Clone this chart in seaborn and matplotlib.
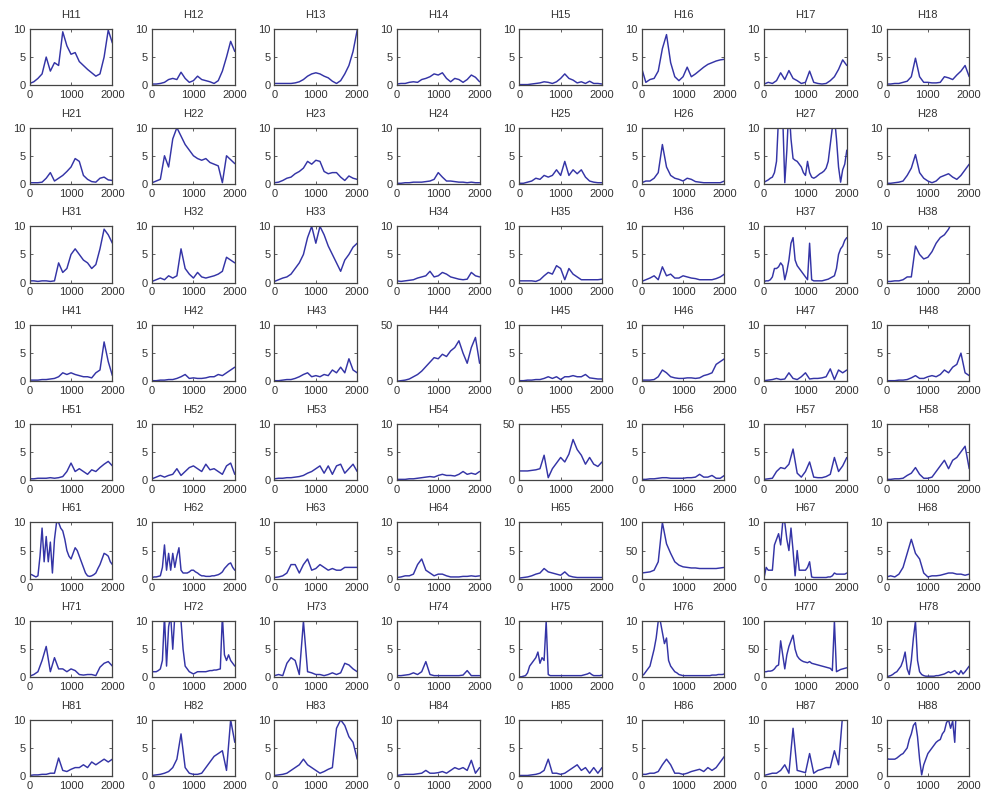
import numpy as np
import pandas as pd
import matplotlib
matplotlib.use("Agg")
import matplotlib.pyplot as plt
import seaborn as sns

# ---- data (x spans 0..2000 evenly) ----
H11 = [0.3,0.6,1.2,2.0,5.0,2.5,4.0,3.5,9.5,7.0,5.5,5.8,4.2,3.5,2.8,2.2,1.6,2.0,5.0,9.8,7.5]
H12 = [0.2,0.2,0.3,0.5,1.0,1.2,1.0,2.3,1.2,0.5,0.8,1.6,1.0,0.8,0.6,0.3,0.8,2.5,5.0,7.8,6.0]
H13 = [0.3,0.3,0.3,0.3,0.3,0.4,0.6,1.0,1.6,2.0,2.2,2.0,1.6,1.3,0.7,0.3,0.8,2.0,3.5,6.0,9.8]
H14 = [0.2,0.3,0.3,0.5,0.6,0.5,1.0,1.2,1.5,2.0,1.8,2.2,1.2,0.6,1.2,1.0,0.5,1.0,1.8,1.4,0.6]
H15 = [0.1,0.1,0.1,0.2,0.3,0.4,0.6,0.5,0.3,0.6,1.2,2.0,1.2,0.9,0.4,0.6,0.3,0.7,0.3,0.3,0.2]
H16 = [3.0,0.5,1.0,1.2,2.5,6.5,9.0,4.0,1.5,0.8,1.5,3.2,1.5,2.0,2.6,3.2,3.7,4.0,4.3,4.5,4.6]
H17 = [0.2,0.5,0.3,0.8,2.2,1.0,2.6,1.2,0.8,0.3,0.5,2.5,0.5,0.3,0.2,0.3,0.8,1.5,2.8,4.5,3.5]
H18 = [0.2,0.2,0.3,0.3,0.5,0.7,1.5,4.8,1.5,0.5,0.5,0.4,0.4,0.5,1.5,1.3,1.0,1.8,2.5,3.5,1.5]

H21 = [0.2,0.2,0.2,0.3,1.0,2.0,0.5,1.0,1.5,2.2,3.0,4.5,4.0,1.5,0.8,0.4,0.3,1.0,1.2,0.7,0.6]
H22 = [0.2,0.5,0.8,5.0,3.0,8.0,10.0,8.5,7.0,6.0,5.0,4.5,4.2,4.5,3.8,3.5,3.2,0.2,5.0,4.3,3.6]
H23 = [0.2,0.3,0.6,1.0,1.2,1.8,2.2,2.8,4.0,3.5,4.2,4.0,2.2,1.8,2.0,2.0,1.2,0.6,1.4,1.0,0.8]
H24 = [0.1,0.1,0.2,0.2,0.3,0.3,0.3,0.4,0.5,0.8,2.0,1.2,0.5,0.5,0.4,0.3,0.3,0.2,0.3,0.2,0.2]
H25 = [0.1,0.1,0.3,0.5,1.0,0.8,1.5,1.2,1.5,2.5,1.5,4.0,1.5,2.5,1.8,2.5,1.2,0.5,0.3,0.2,0.2]
H26 = [0.2,0.5,0.5,1.0,2.0,7.0,3.0,1.5,1.0,0.8,0.5,1.0,0.8,0.4,0.3,0.2,0.2,0.2,0.2,0.2,0.5]
H27 = [0.3,0.5,0.7,1.0,1.2,2.0,4.0,12,14,12,0.2,6.0,14,8.0,4.5,4.2,4.0,3.5,3.0,2.0,1.5,
       4.0,2.0,1.2,1.0,1.2,1.5,1.8,2.0,2.3,2.8,4.0,7.0,10,12,8.0,3.0,0.3,2.5,3.5,6.0]
H28 = [0.1,0.1,0.2,0.3,0.5,1.5,2.8,5.2,2.0,1.0,0.5,0.2,0.5,1.2,1.5,1.8,1.2,0.8,1.5,2.5,3.5]

H31 = [0.3,0.3,0.2,0.3,0.3,0.2,0.3,3.5,1.8,2.5,5.0,6.0,5.0,4.0,3.5,2.5,3.2,6.0,9.5,8.5,7.0]
H32 = [0.2,0.5,0.8,0.5,1.2,0.8,1.2,6.0,2.5,1.5,0.8,1.8,1.0,0.8,1.0,1.2,1.5,2.0,4.5,4.0,3.5]
H33 = [0.2,0.5,0.8,1.0,1.5,2.5,3.5,5.0,8.0,10.0,7.0,10.0,8.5,6.5,5.0,3.5,2.0,4.0,5.0,6.3,7.0]
H34 = [0.3,0.2,0.3,0.4,0.5,0.8,1.0,1.2,2.0,1.0,1.2,1.8,1.5,1.0,0.8,0.6,0.5,0.6,1.8,1.2,1.0]
H35 = [0.3,0.3,0.3,0.3,0.2,0.5,1.2,1.8,1.5,3.0,2.5,0.5,2.5,1.5,1.0,0.5,0.5,0.5,0.5,0.5,0.6]
H36 = [0.2,0.5,0.8,1.2,0.5,2.8,1.2,1.5,0.8,0.8,1.2,1.0,0.8,0.7,0.5,0.5,0.5,0.5,0.7,1.0,1.5]
H37 = [0.2,0.3,0.3,0.5,1.0,2.5,2.5,2.8,3.5,3.0,0.5,2.0,4.0,7.0,8.0,4.0,3.0,2.5,2.0,1.5,1.0,
       0.5,7.0,0.5,0.3,0.3,0.3,0.3,0.3,0.4,0.5,0.6,0.8,1.0,1.2,2.5,5.0,6.0,6.5,7.5,8.0]
H38 = [0.2,0.2,0.3,0.3,0.5,1.0,1.0,6.5,5.0,4.2,4.5,5.5,7.0,8.0,8.5,9.5,11,12,13,14,15]

H41 = [0.2,0.2,0.2,0.3,0.3,0.4,0.5,0.8,1.5,1.2,1.5,1.2,1.0,0.8,0.8,0.6,1.5,2.0,7.0,3.5,1.0]
H42 = [0.1,0.1,0.2,0.2,0.3,0.3,0.5,0.8,1.2,0.5,0.6,0.5,0.5,0.6,0.8,0.8,1.2,1.0,1.5,2.0,2.5]
H43 = [0.1,0.1,0.2,0.3,0.3,0.5,0.8,1.2,1.5,0.8,1.0,0.8,1.2,1.0,2.0,1.5,2.5,1.5,4.0,2.0,1.5]
H44 = [0,0.5,1,2,4,6,9,13,17,21,20,24,22,27,30,36,25,16,30,39,16]
H45 = [0.1,0.1,0.2,0.2,0.3,0.3,0.5,0.8,0.5,0.8,0.3,0.8,0.8,1.0,0.8,0.8,1.2,0.6,0.5,0.4,0.4]
H46 = [0.2,0.2,0.2,0.3,0.8,2.0,1.5,0.8,0.6,0.5,0.5,0.6,0.6,0.5,0.6,1.0,1.2,1.5,3.0,3.5,4.0]
H47 = [0.1,0.2,0.3,0.5,0.3,0.4,1.5,0.5,0.3,0.8,1.5,0.4,0.5,0.5,0.6,0.8,2.2,0.3,2.0,1.5,2.0]
H48 = [0.1,0.1,0.1,0.2,0.2,0.3,0.6,1.0,0.5,0.5,0.8,1.0,0.8,1.2,2.0,1.5,2.5,3.0,5.0,1.5,1.0]

H51 = [0.2,0.2,0.3,0.3,0.3,0.4,0.3,0.4,0.6,1.5,3.0,1.5,2.0,1.5,1.0,1.8,1.5,2.2,2.8,3.3,2.5]
H52 = [0.2,0.5,0.8,0.5,0.8,1.0,2.0,0.8,1.5,2.2,2.5,2.0,1.5,2.8,1.8,2.0,1.5,1.0,2.5,3.0,1.0]
H53 = [0.2,0.3,0.3,0.4,0.4,0.5,0.6,0.8,1.2,1.5,2.0,2.5,1.2,2.5,1.0,2.5,2.8,1.2,2.0,2.8,1.5]
H54 = [0.1,0.1,0.1,0.2,0.2,0.3,0.4,0.5,0.6,0.5,0.8,1.0,0.8,0.8,0.7,1.0,1.5,1.0,1.2,1.0,1.5]
H55 = [8,8,8,8.5,9,10,22,2,10,15,20,16,23,36,27,22,14,20,14,12,16]
H56 = [0.1,0.1,0.2,0.2,0.3,0.4,0.4,0.3,0.3,0.3,0.3,0.4,0.4,0.5,1.0,0.5,0.5,0.8,0.3,0.3,0.8]
H57 = [0.1,0.2,0.3,1.5,2.2,2.0,2.8,5.5,1.2,0.5,1.5,3.2,0.5,0.4,0.4,0.6,1.0,4.0,1.5,2.5,4.0]
H58 = [0.1,0.1,0.2,0.2,0.3,0.8,1.2,2.2,1.0,0.3,0.3,0.5,1.5,2.5,3.5,2.0,3.5,4.0,5.0,6.0,2.0]

H61 = [0.8,0.7,0.5,0.3,0.5,4.0,9.0,3.0,7.5,3.0,6.5,1.0,7.0,10,10,9,8.5,7,5,4,3.5,
       4.5,5.5,5,4,3,2,1,0.5,0.4,0.5,0.7,1.0,1.8,2.5,3.5,4.5,4.3,4.0,3.0,2.5]
H62 = [0.2,0.3,0.3,0.4,0.5,2.0,6.0,1.5,4.5,1.5,4.5,2.0,4.0,5.5,1.5,1.0,1.0,1.0,1.2,1.5,1.5,
       1.2,1.0,0.7,0.5,0.5,0.4,0.4,0.4,0.5,0.5,0.6,0.7,0.9,1.2,1.8,2.2,2.6,2.8,2.0,1.5]
H63 = [0.2,0.3,0.5,1.0,2.5,2.5,1.0,2.5,3.5,1.5,1.8,2.5,2.0,1.5,1.8,1.5,1.5,2.0,2.0,2.0,2.0]
H64 = [0.2,0.3,0.5,0.5,0.8,2.5,3.5,1.5,1.0,0.5,0.8,0.8,0.5,0.3,0.3,0.3,0.4,0.4,0.5,0.4,0.5]
H65 = [0.1,0.2,0.3,0.5,0.8,1.0,1.8,1.2,1.0,0.8,0.6,1.2,0.5,0.3,0.2,0.2,0.2,0.2,0.2,0.2,0.2]
H66 = [10,11,12,15,30,100,62,45,30,24,21,20,19,19,18,18,18,18,18,19,20]
H67 = [0.2,2.0,1.5,1.5,1.5,6.0,7.0,8.0,6.0,10,10,7,5,9,5,0.5,5.0,1.5,1.5,1.5,1.5,
       2.0,3.0,0.3,0.2,0.2,0.2,0.2,0.2,0.2,0.2,0.3,0.3,0.5,1.0,0.8,0.8,0.8,0.8,0.8,1.0]
H68 = [0.3,0.5,0.3,0.8,2.0,4.5,7.0,4.5,3.5,1.0,0.3,0.5,0.5,0.6,0.8,1.0,1.0,0.8,0.8,0.6,0.8]

H71 = [0.2,0.5,1.0,3.0,5.5,1.0,3.5,1.5,1.5,1.0,1.5,1.2,0.5,0.4,0.5,0.5,0.3,1.8,2.5,2.8,2.0]
H72 = [1.0,1.0,1.0,1.2,1.5,3.0,11,2.0,9.0,11,5.0,11,11,11,10,5.0,2.0,1.5,1.0,0.8,0.6,
       0.8,1.0,1.0,1.0,1.0,1.0,1.1,1.2,1.2,1.3,1.3,1.4,1.5,11,4.0,3.0,4.0,3.0,2.5,2.0]
H73 = [0.3,0.5,0.3,2.5,3.5,3.0,0.5,10.0,1.0,0.8,0.5,0.5,0.3,0.5,0.8,0.5,0.8,2.5,2.2,1.5,1.0]
H74 = [0.3,0.3,0.4,0.5,0.8,0.5,1.0,2.8,0.5,0.3,0.3,0.3,0.3,0.3,0.3,0.3,0.4,1.2,0.3,0.3,0.3]
H75 = [0.1,0.1,0.2,0.3,0.8,2.0,2.5,3.0,3.5,4.5,2.5,3.5,3.0,10.0,0.5,0.3,0.3,0.3,0.3,0.3,0.3,
       0.3,0.3,0.3,0.3,0.3,0.3,0.3,0.3,0.3,0.3,0.4,0.5,0.6,0.8,0.5,0.3,0.3,0.3,0.3,0.4]
H76 = [0.3,0.5,1.0,1.5,2.0,3.5,5.0,7.0,10,10,8.0,6.0,7.0,3.0,2.0,1.5,1.0,0.8,0.5,0.4,0.3,
       0.3,0.3,0.3,0.3,0.3,0.3,0.3,0.3,0.3,0.3,0.3,0.3,0.3,0.4,0.4,0.4,0.5,0.5,0.5,0.6]
H77 = [10,10,11,11,12,15,20,22,65,40,15,40,55,65,75,50,38,33,30,28,27,
       26,28,25,24,23,22,21,20,19,18,17,16,12,100,10,12,14,15,16,17]
H78 = [0.1,0.2,0.3,0.5,0.8,1.0,1.5,2.0,3.0,4.5,1.5,0.5,3.0,7.0,10.0,3.0,1.0,0.5,0.3,0.2,0.2,
       0.2,0.2,0.2,0.3,0.3,0.4,0.5,0.6,0.8,1.0,0.8,1.0,1.2,0.8,0.5,1.2,0.6,1.0,1.5,2.0]

H81 = [0.1,0.2,0.2,0.3,0.3,0.5,0.5,3.2,1.0,0.8,1.2,1.5,1.5,2.0,1.5,2.5,2.0,2.5,3.0,2.5,3.0]
H82 = [0.1,0.2,0.3,0.5,0.8,1.5,3.0,7.5,1.5,0.5,0.3,0.3,0.5,1.5,2.5,3.5,4.0,4.5,1.0,10.0,6.0]
H83 = [0.1,0.2,0.3,0.5,1.0,1.5,2.0,3.0,2.0,1.5,1.0,0.5,0.8,1.2,1.5,8.5,10.0,9.0,7.0,6.0,3.0]
H84 = [0.1,0.2,0.3,0.3,0.3,0.4,0.5,1.0,0.5,0.5,0.6,0.8,0.5,1.0,1.5,1.2,1.5,1.0,2.8,0.5,1.5]
H85 = [0.1,0.1,0.1,0.2,0.3,0.5,1.0,3.0,0.5,0.5,0.3,0.5,1.0,1.5,2.0,1.0,1.5,0.5,1.5,0.5,1.5]
H86 = [0.3,0.3,0.5,0.5,0.8,2.0,3.0,2.0,0.5,0.5,0.3,0.5,0.8,1.0,1.2,0.8,1.5,1.0,1.5,2.5,3.5]
H87 = [0.1,0.3,0.5,0.5,1.0,2.0,0.5,8.5,1.0,0.8,0.6,4.0,0.5,1.0,1.2,1.5,1.5,4.5,2.0,11.0,12.0]
H88 = [3.2,3.0,3.0,3.0,3.0,3.2,3.5,3.8,4.0,4.5,5.0,6.5,7.5,9.0,9.5,7.0,3.0,0.2,2.0,3.0,
       4.0,4.5,5.0,5.5,6.0,6.3,6.5,7.5,8.0,9.5,10.0,8.5,9.8,6.0,14,16,18,20,22,24,26]

NAMES = [f"H{r}{c}" for r in range(1, 9) for c in range(1, 9)]
SERIES = {n: globals()[n] for n in NAMES}
YMAX = {"H44": 50, "H55": 50, "H66": 100, "H77": 100}
YTICKS = {10: [0, 5, 10], 50: [0, 50], 100: [0, 50, 100]}
XTICKS = [0, 1000, 2000]

# ---- style ----
sns.set_style("ticks")
plt.rcParams["font.family"] = ["Liberation Sans", "DejaVu Sans"]
plt.rcParams.update({
    "xtick.direction": "in", "ytick.direction": "in",
    "xtick.major.size": 2.5, "ytick.major.size": 2.5,
    "xtick.major.width": 0.6, "ytick.major.width": 0.6,
    "xtick.major.pad": 3.5, "ytick.major.pad": 3,
    "axes.linewidth": 0.9, "axes.edgecolor": "#444444",
    "xtick.color": "#444444", "ytick.color": "#444444",
})

LINE = "#3434a6"
fig, axes = plt.subplots(8, 8, figsize=(9.89, 7.96), dpi=100)
fig.subplots_adjust(left=0.030, right=0.980, top=0.9636, bottom=0.0251,
                    wspace=0.48, hspace=0.757)

for ax, name in zip(axes.flat, NAMES):
    y = np.asarray(SERIES[name], dtype=float)
    x = np.linspace(0, 2000, len(y))
    df = pd.DataFrame({"x": x, "y": y})
    sns.lineplot(data=df, x="x", y="y", ax=ax, color=LINE, linewidth=1.05,
                 estimator=None, sort=False)
    ym = YMAX.get(name, 10)
    ax.set_xlim(0, 2000)
    ax.set_ylim(0, ym)
    ax.set_xticks(XTICKS)
    ax.set_yticks(YTICKS[ym])
    ax.tick_params(labelsize=8, labelcolor="#333333", top=True, right=True)
    ax.set_xlabel("")
    ax.set_ylabel("")
    ax.set_title(name, fontsize=8, pad=8, color="#333333")
    for s in ax.spines.values():
        s.set_visible(True)

fig.savefig("out.png", dpi=100)
